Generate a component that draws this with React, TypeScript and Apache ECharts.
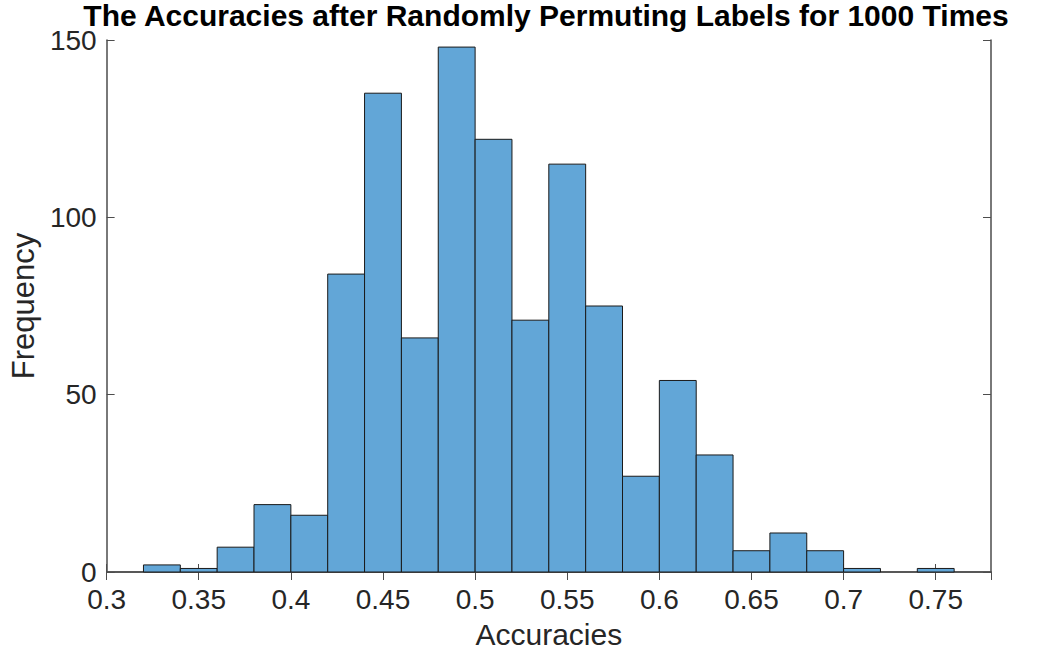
import React, { useEffect, useRef } from "react";
import * as echarts from "echarts";

const binStarts = [0.32, 0.34, 0.36, 0.38, 0.40, 0.42, 0.44, 0.46, 0.48, 0.50, 0.52, 0.54, 0.56, 0.58, 0.60, 0.62, 0.64, 0.66, 0.68, 0.70, 0.72, 0.74];
const binWidth = 0.02;
const counts = [2, 1, 7, 19, 16, 84, 135, 66, 148, 122, 71, 115, 75, 27, 54, 33, 6, 11, 6, 1, 0, 1];
const titleText = "The Accuracies after Randomly Permuting Labels for 1000 Times";
const xName = "Accuracies";
const yName = "Frequency";

const FONT = "'Liberation Sans', Arial, Helvetica, sans-serif";
const AXIS_COLOR = "#4d4d4d";
const TEXT_COLOR = "#262626";

export default function App() {
  const ref = useRef<HTMLDivElement>(null);
  useEffect(() => {
    if (!ref.current) return;
    const chart = echarts.init(ref.current, undefined, { renderer: "svg" });
    const data = binStarts.map((s, i) => [s, s + binWidth, counts[i]]);
    const tickCommon = { show: true, inside: true, length: 8, lineStyle: { color: AXIS_COLOR, width: 1 } };
    chart.setOption({
      animation: false,
      backgroundColor: "#ffffff",
      graphic: [
        {
          type: "text",
          x: 546,
          y: 0,
          style: {
            text: titleText,
            fill: "#000",
            font: `bold 30px ${FONT}`,
            lineHeight: 30,
            textAlign: "center",
            textVerticalAlign: "top",
          },
        },
      ],
      grid: { left: 102, right: 53, top: 40, bottom: 89, containLabel: false },
      xAxis: [
        {
          type: "value",
          min: 0.3,
          max: 0.78,
          interval: 0.05,
          position: "bottom",
          name: xName,
          nameLocation: "middle",
          nameGap: 47,
          nameTextStyle: { fontFamily: FONT, fontSize: 30, color: TEXT_COLOR },
          axisLine: { show: true, lineStyle: { color: AXIS_COLOR, width: 1.5 } },
          axisTick: tickCommon,
          axisLabel: {
            showMaxLabel: false,
            margin: 13,
            fontFamily: FONT,
            fontSize: 28,
            color: TEXT_COLOR,
            formatter: (v: number) => String(Math.round(v * 100) / 100),
          },
          splitLine: { show: false },
        },
        {
          type: "value",
          min: 0.3,
          max: 0.78,
          interval: 0.05,
          position: "top",
          axisLine: { show: true, lineStyle: { color: AXIS_COLOR, width: 1.5 } },
          axisTick: tickCommon,
          axisLabel: { show: false },
          splitLine: { show: false },
        },
      ],
      yAxis: [
        {
          type: "value",
          min: 0,
          max: 150,
          interval: 50,
          position: "left",
          name: yName,
          nameLocation: "middle",
          nameGap: 64,
          nameTextStyle: { fontFamily: FONT, fontSize: 31, color: TEXT_COLOR },
          axisLine: { show: true, lineStyle: { color: AXIS_COLOR, width: 1.5 } },
          axisTick: tickCommon,
          axisLabel: { margin: 10, fontFamily: FONT, fontSize: 28, lineHeight: 20, color: TEXT_COLOR },
          splitLine: { show: false },
        },
        {
          type: "value",
          min: 0,
          max: 150,
          interval: 50,
          position: "right",
          axisLine: { show: true, lineStyle: { color: AXIS_COLOR, width: 1.5 } },
          axisTick: tickCommon,
          axisLabel: { show: false },
          splitLine: { show: false },
        },
      ],
      series: [
        {
          type: "custom",
          xAxisIndex: 0,
          yAxisIndex: 0,
          data,
          renderItem: (params: any, api: any) => {
            const x0 = api.value(0);
            const x1 = api.value(1);
            const y = api.value(2);
            if (y <= 0) return null;
            const p0 = api.coord([x0, y]);
            const p1 = api.coord([x1, 0]);
            return {
              type: "rect",
              shape: { x: p0[0], y: p0[1], width: p1[0] - p0[0], height: p1[1] - p0[1] },
              style: { fill: "#62a6d7", stroke: "#1a1a1a", lineWidth: 1 },
            };
          },
        },
      ],
    });
    return () => chart.dispose();
  }, []);
  return <div ref={ref} style={{ width: 1044, height: 661, position: "absolute", left: 0, top: 0 }} />;
}
